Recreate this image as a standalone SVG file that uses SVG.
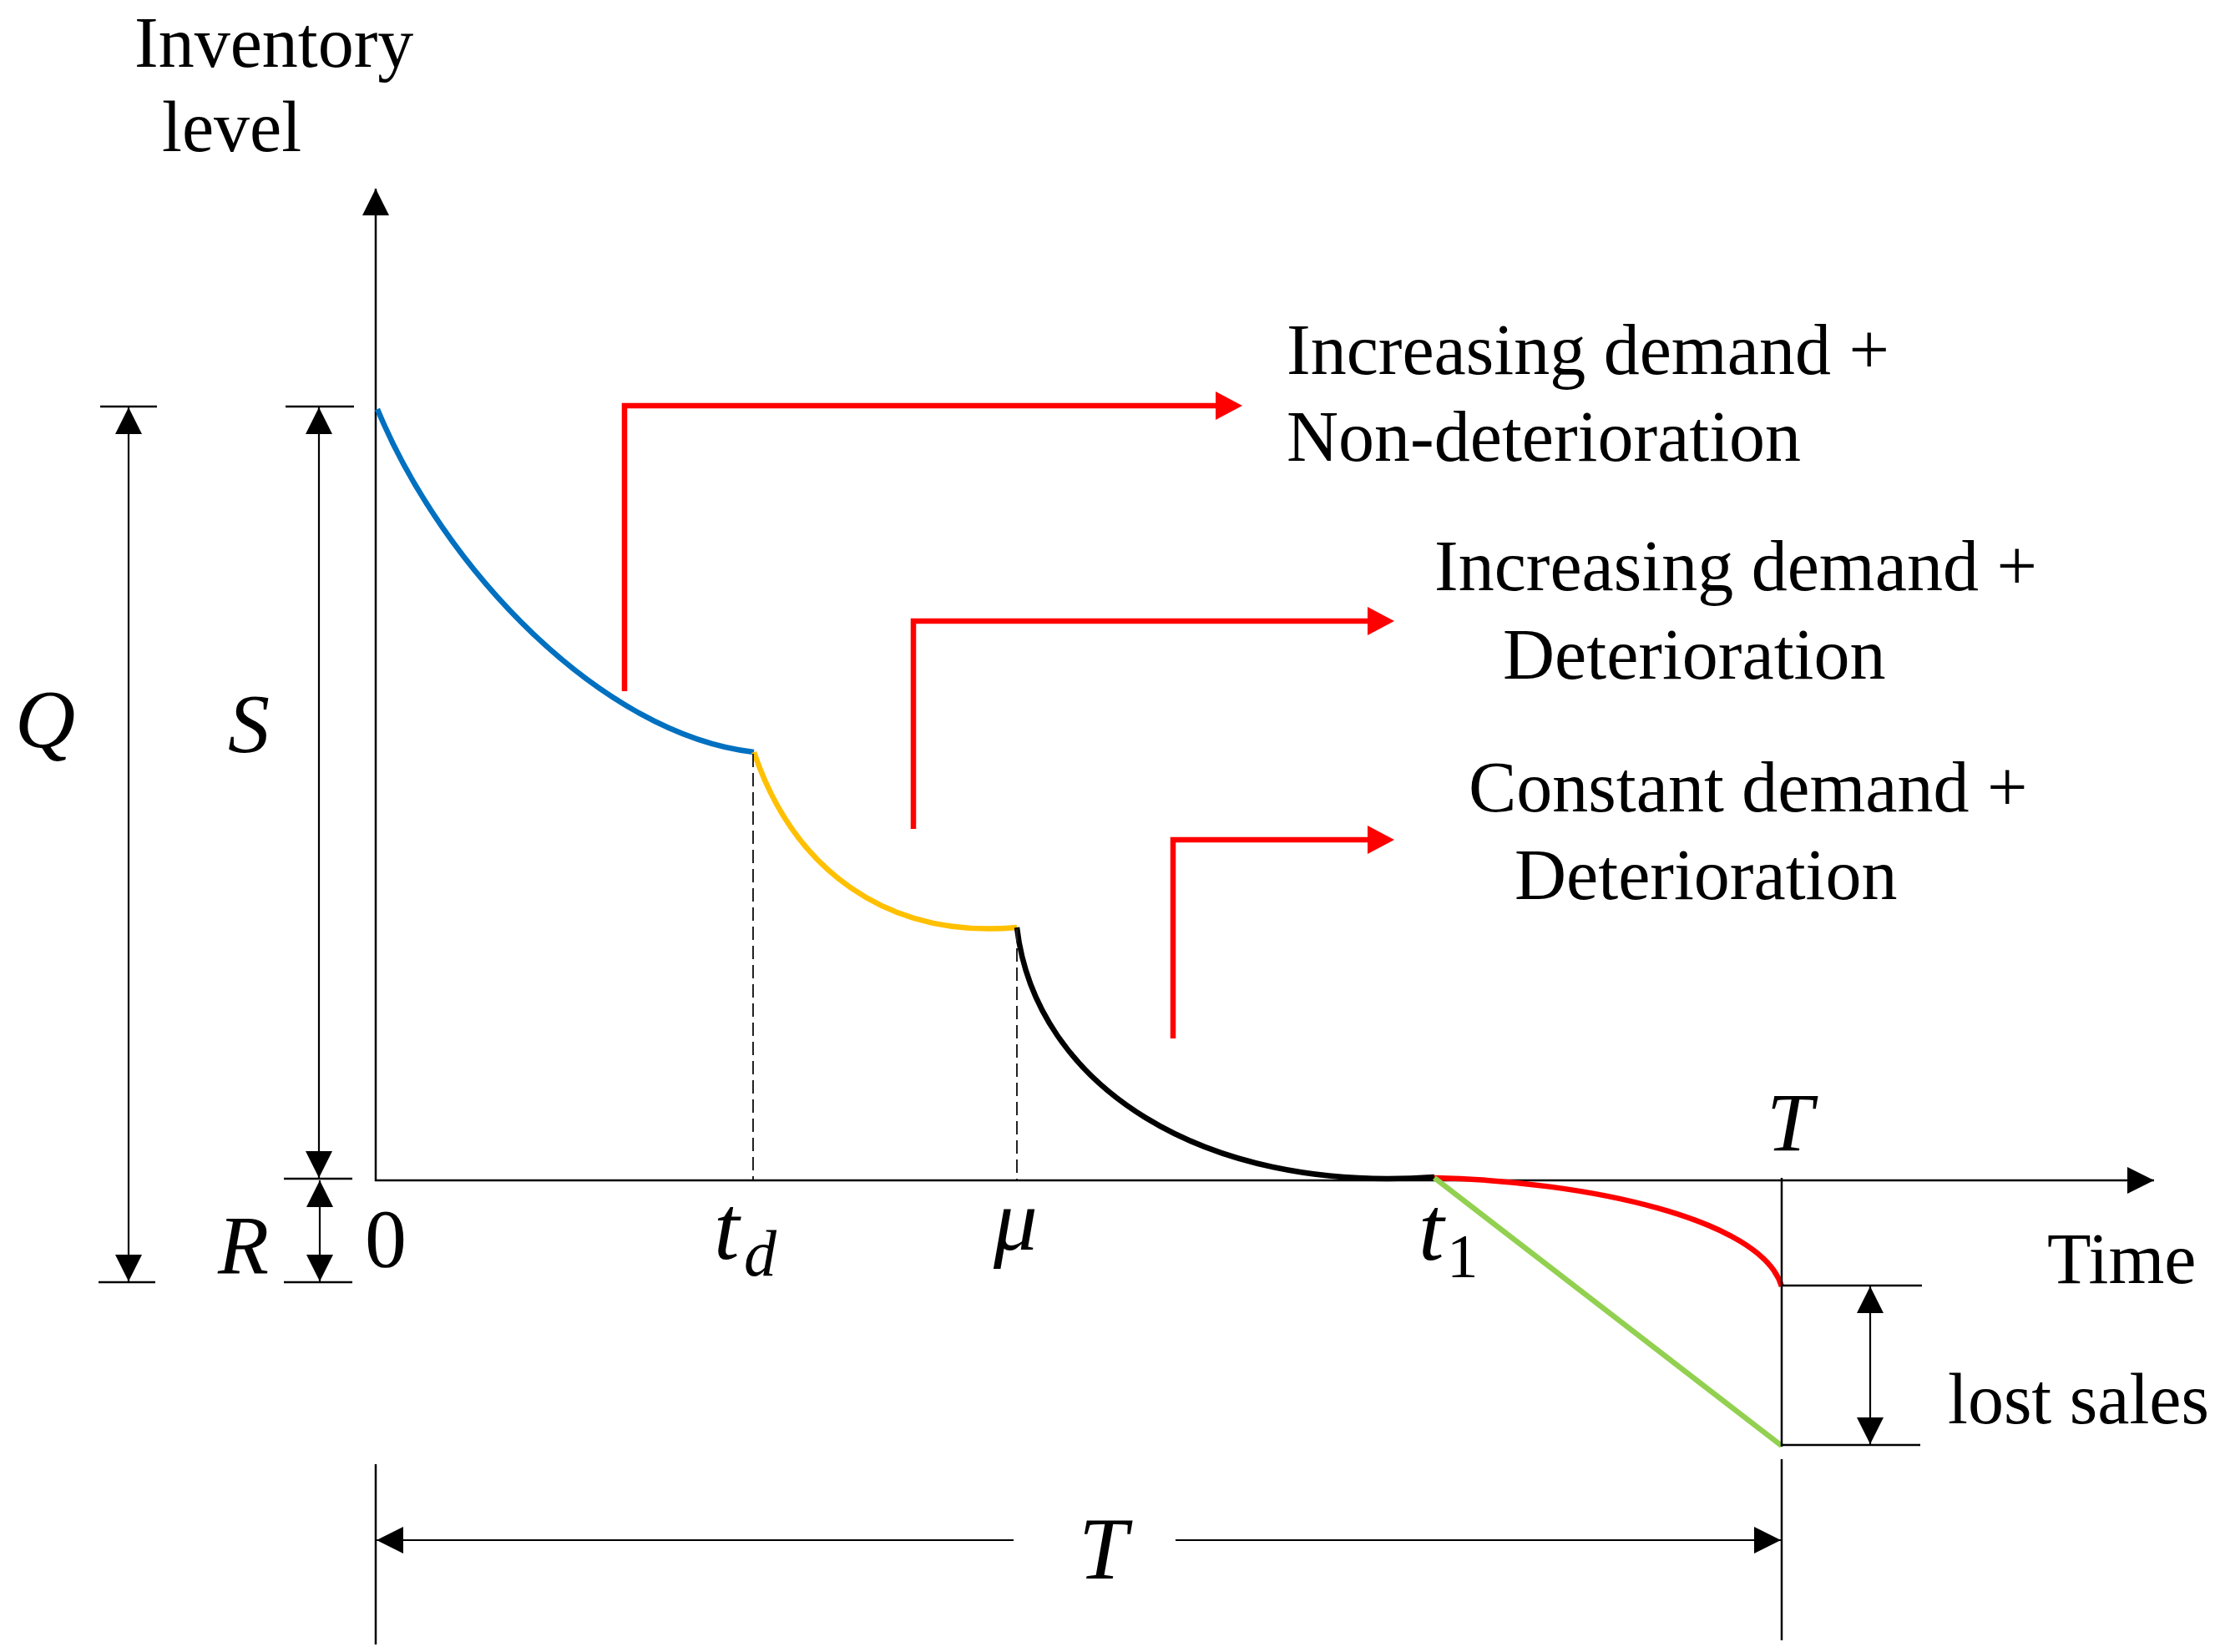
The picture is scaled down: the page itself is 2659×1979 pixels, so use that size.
<svg xmlns="http://www.w3.org/2000/svg" width="2659" height="1979" viewBox="0 0 2659 1979">
<style>
 .ax{stroke:#000;stroke-width:2.5;fill:none}
 .dim{stroke:#000;stroke-width:2.2;fill:none}
 .bar{stroke:#000;stroke-width:2.5;fill:none}
 .dash{stroke:#222;stroke-width:2;stroke-dasharray:16 7;fill:none}
 .red{stroke:#FF0000;stroke-width:6.5;fill:none;stroke-linejoin:miter}
 .crv{fill:none;stroke-width:6.5;stroke-linecap:butt}
 .lbl{font-family:"Liberation Serif","Times New Roman",serif;font-size:86px;fill:#000}
 .m{font-family:"Liberation Serif","Times New Roman",serif;font-style:italic;fill:#000}
 .u{font-family:"Liberation Serif","Times New Roman",serif;fill:#000}
</style>
<defs>
 <marker id="ah" markerUnits="userSpaceOnUse" viewBox="0 0 32 32" markerWidth="32" markerHeight="32" refX="32" refY="16" orient="auto-start-reverse"><path d="M0,0 L32,16 L0,32 z" fill="#000"/></marker>
 <marker id="rh" markerUnits="userSpaceOnUse" viewBox="0 0 32 34" markerWidth="32" markerHeight="34" refX="0" refY="17" orient="auto"><path d="M0,0 L32,17 L0,34 z" fill="#FF0000"/></marker>
</defs>
<rect width="2659" height="1979" fill="#fff"/>

<g id="axes">
 <line class="ax" x1="450" y1="1415" x2="450" y2="226" marker-end="url(#ah)"/>
 <line class="ax" x1="449" y1="1414" x2="2580" y2="1414" marker-end="url(#ah)"/>
</g>

<g id="curves">
 <path id="blue" class="crv" stroke="#0070C0" d="M452,490 C530,680 720,880 903,901"/>
 <path id="yellow" class="crv" stroke="#FFC000" d="M903,901 C950,1040 1060,1125 1218,1111"/>
 <path id="black" class="crv" stroke="#000" d="M1218,1111 C1240,1300 1440,1430 1718,1410"/>
 <path id="redcurve" class="crv" stroke="#FF0000" d="M1718,1411 C1900,1415 2110,1460 2134,1541"/>
 <line id="green" class="crv" stroke="#92D050" stroke-width="5.5" x1="1718" y1="1411" x2="2134" y2="1732"/>
</g>

<g id="connectors">
 <line class="dash" x1="902" y1="903" x2="902" y2="1413"/>
 <line class="dash" x1="1218" y1="1113" x2="1218" y2="1413"/>
 <path class="red" d="M748,828 V486 H1456" marker-end="url(#rh)"/>
 <path class="red" d="M1094,993 V744 H1638" marker-end="url(#rh)"/>
 <path class="red" d="M1405,1244 V1006 H1638" marker-end="url(#rh)"/>
 <line class="dim" x1="154" y1="488" x2="154" y2="1535" marker-start="url(#ah)" marker-end="url(#ah)"/>
 <line class="bar" x1="120" y1="487" x2="188" y2="487"/>
 <line class="bar" x1="118" y1="1536" x2="186" y2="1536"/>
 <line class="dim" x1="382" y1="488" x2="382" y2="1411" marker-start="url(#ah)" marker-end="url(#ah)"/>
 <line class="bar" x1="342" y1="487" x2="424" y2="487"/>
 <line class="bar" x1="340" y1="1412" x2="422" y2="1412"/>
 <line class="dim" x1="383" y1="1414" x2="383" y2="1535" marker-start="url(#ah)" marker-end="url(#ah)"/>
 <line class="bar" x1="340" y1="1536" x2="422" y2="1536"/>
 <line class="dim" x1="2240" y1="1541" x2="2240" y2="1730" marker-start="url(#ah)" marker-end="url(#ah)"/>
 <line class="bar" x1="2134" y1="1540" x2="2302" y2="1540"/>
 <line class="bar" x1="2134" y1="1731" x2="2300" y2="1731"/>
 <line class="ax" x1="2134" y1="1411" x2="2134" y2="1733"/>
 <line class="ax" x1="2134" y1="1748" x2="2134" y2="1965"/>
 <line class="ax" x1="450" y1="1754" x2="450" y2="1970"/>
 <line class="dim" x1="1214" y1="1845" x2="451" y2="1845" marker-end="url(#ah)"/>
 <line class="dim" x1="1408" y1="1845" x2="2133" y2="1845" marker-end="url(#ah)"/>
</g>

<g id="label-inventory" class="lbl">
 <text x="161" y="80">Inventory</text>
 <text x="194" y="181">level</text>
</g>
<g id="label-1" class="lbl">
 <text x="1541" y="448">Increasing demand +</text>
 <text x="1541" y="552">Non-deterioration</text>
</g>
<g id="label-2" class="lbl">
 <text x="1718" y="707">Increasing demand +</text>
 <text x="1800" y="813">Deterioration</text>
</g>
<g id="label-3" class="lbl">
 <text x="1759" y="972">Constant demand +</text>
 <text x="1814" y="1077">Deterioration</text>
</g>
<g id="label-time" class="lbl"><text x="2452" y="1537">Time</text></g>
<g id="label-lost" class="lbl"><text x="2333" y="1705">lost sales</text></g>

<g id="label-Q"><text class="m" x="18" y="895" font-size="100">Q</text></g>
<g id="label-S"><text class="m" x="273" y="900" font-size="100">S</text></g>
<g id="label-R"><text class="m" x="261" y="1525" font-size="100">R</text></g>
<g id="label-0"><text class="u" x="437" y="1517" font-size="100">0</text></g>
<g id="label-td"><text class="m" x="855" y="1508" font-size="110">t</text><text class="m" x="891" y="1528" font-size="78">d</text></g>
<g id="label-mu"><text class="m" x="1190" y="1497" font-size="105">μ</text></g>
<g id="label-t1"><text class="m" x="1699" y="1509" font-size="110">t</text><text class="u" x="1733" y="1530" font-size="75">1</text></g>
<g id="label-T-top"><text class="m" x="2116" y="1378" font-size="100">T</text></g>
<g id="label-T-bottom"><text class="m" x="1292" y="1891" font-size="105">T</text></g>
</svg>
